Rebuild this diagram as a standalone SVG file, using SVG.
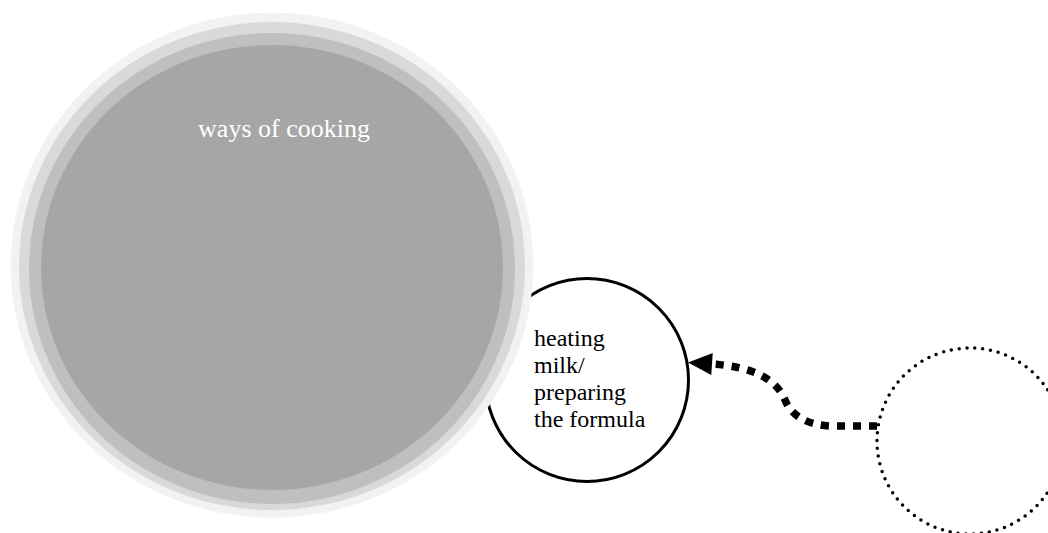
<svg xmlns="http://www.w3.org/2000/svg" width="1048" height="533" viewBox="0 0 1048 533">
<style>
.lbl{font-family:"Liberation Serif","Times New Roman",serif;}
.conn{fill:none;stroke:#000;stroke-width:7.5;stroke-dasharray:8 8;}
</style>
<defs>
<marker id="arr" markerUnits="userSpaceOnUse" markerWidth="24" markerHeight="22" refX="0" refY="11" orient="auto" overflow="visible">
<path d="M0,0 L24,11 L0,22 Z" fill="#000"/>
</marker>
</defs>
<rect width="1048" height="533" fill="#fff"/>
<g id="node-heating">
<circle cx="587" cy="380" r="101.5" fill="#fff" stroke="#000" stroke-width="3"/>
<text class="lbl" font-size="24" fill="#000"><tspan x="534" y="346">heating</tspan><tspan x="534" y="373">milk/</tspan><tspan x="534" y="400">preparing</tspan><tspan x="534" y="427">the formula</tspan></text>
</g>
<g id="node-cooking">
<ellipse cx="272" cy="265.2" rx="261.3" ry="252.5" fill="#f2f2f2"/>
<ellipse cx="272" cy="266" rx="253" ry="244" fill="#d9d9d9"/>
<ellipse cx="272" cy="268.5" rx="243" ry="235.5" fill="#bfbfbf"/>
<ellipse cx="272" cy="267.5" rx="231" ry="222.5" fill="#a6a6a6"/>
<text class="lbl" x="284" y="137" font-size="26" fill="#fff" text-anchor="middle">ways of cooking</text>
</g>
<g id="node-empty">
<circle cx="970" cy="441" r="93" fill="none" stroke="#000" stroke-width="3.5" stroke-linecap="round" stroke-dasharray="0 7.9"/>
</g>
<g id="connectors">
<path class="conn" d="M877,426 L830,426 Q795,424 785,400 Q772,368 712,364" marker-end="url(#arr)"/>
</g>
</svg>
